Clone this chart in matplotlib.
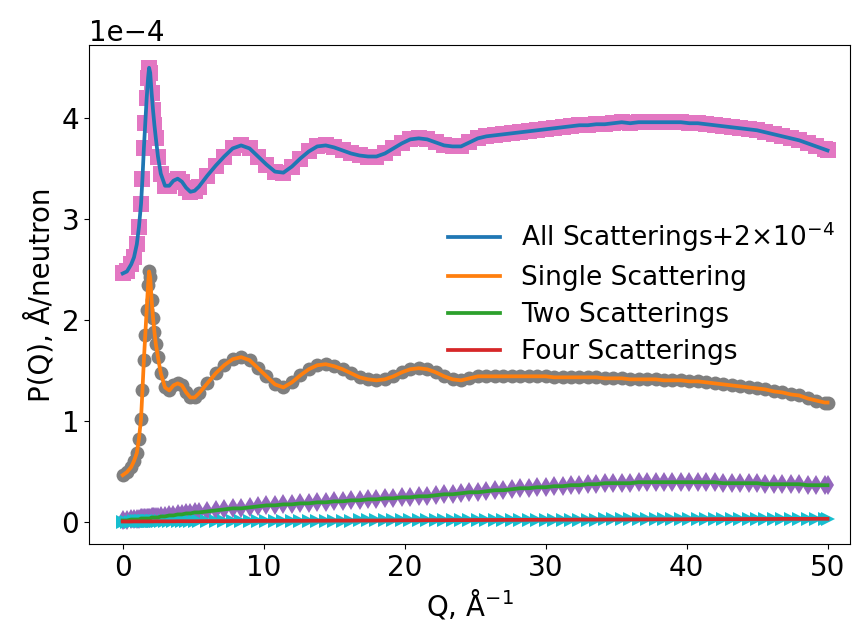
import numpy as np
import matplotlib
matplotlib.use("Agg")
import matplotlib.pyplot as plt

# Q grid (1/Angstrom): extra samples around the first sharp peak, 0.6 steps beyond
q_low = [0.0, 0.3, 0.6, 0.8, 1.0, 1.15, 1.3, 1.4, 1.5, 1.6, 1.7, 1.8, 1.87,
         1.95, 2.05, 2.15, 2.25, 2.35, 2.5, 2.7, 3.0, 3.3, 3.6, 3.9, 4.2,
         4.5, 4.8, 5.1, 5.4]
q = np.r_[q_low, np.arange(6.0, 49.9, 0.6), 50.0]

# P(Q) in units of 1e-4, all scatterings already shifted by +2e-4
all_scat = [
    2.46, 2.48, 2.55, 2.62, 2.75, 2.92, 3.15, 3.40, 3.70, 3.95, 4.20, 4.40, 4.50,
    4.45, 4.25, 4.08, 3.93, 3.80, 3.62, 3.45, 3.33, 3.33, 3.38, 3.40, 3.37,
    3.31, 3.27, 3.28, 3.32,
    3.43, 3.53, 3.62, 3.70, 3.73, 3.70, 3.62, 3.54, 3.47, 3.46,   # 6.0 - 11.4
    3.52, 3.60, 3.67, 3.72, 3.73, 3.71, 3.68, 3.65, 3.63, 3.62,   # 12.0 - 17.4
    3.62, 3.65, 3.70, 3.75, 3.79, 3.80, 3.79, 3.76, 3.73, 3.72,   # 18.0 - 23.4
    3.72, 3.76, 3.80, 3.82, 3.83, 3.84, 3.85, 3.86, 3.87, 3.88,   # 24.0 - 29.4
    3.89, 3.90, 3.91, 3.92, 3.93, 3.93, 3.94, 3.94, 3.95, 3.96,   # 30.0 - 35.4
    3.95, 3.96, 3.96, 3.96, 3.96, 3.96, 3.96, 3.95, 3.95, 3.94,   # 36.0 - 41.4
    3.93, 3.92, 3.91, 3.90, 3.89, 3.88, 3.86, 3.84, 3.82, 3.80,   # 42.0 - 47.4
    3.78, 3.75, 3.72, 3.69, 3.68,                                 # 48.0 - 50.0
]
single_scat = [
    0.46, 0.49, 0.54, 0.60, 0.68, 0.82, 1.02, 1.30, 1.60, 1.85, 2.10, 2.35, 2.48,
    2.42, 2.20, 2.02, 1.88, 1.76, 1.63, 1.47, 1.33, 1.30, 1.35, 1.37, 1.35,
    1.28, 1.23, 1.23, 1.27,
    1.37, 1.47, 1.55, 1.61, 1.63, 1.60, 1.52, 1.44, 1.36, 1.33,
    1.38, 1.45, 1.51, 1.55, 1.56, 1.54, 1.51, 1.47, 1.43, 1.41,
    1.40, 1.41, 1.44, 1.48, 1.51, 1.52, 1.51, 1.48, 1.44, 1.41,
    1.40, 1.42, 1.44, 1.44, 1.44, 1.44, 1.44, 1.44, 1.44, 1.44,
    1.44, 1.43, 1.43, 1.43, 1.43, 1.43, 1.43, 1.42, 1.42, 1.42,
    1.41, 1.41, 1.41, 1.41, 1.40, 1.40, 1.40, 1.39, 1.39, 1.38,
    1.37, 1.36, 1.35, 1.34, 1.33, 1.32, 1.31, 1.29, 1.28, 1.26,
    1.25, 1.22, 1.20, 1.18, 1.18,
]
two_scat = [
    0.01, 0.01, 0.02, 0.02, 0.02, 0.02, 0.03, 0.03, 0.03, 0.03, 0.03, 0.03, 0.03,
    0.03, 0.04, 0.04, 0.04, 0.04, 0.04, 0.05, 0.05, 0.06, 0.06, 0.07, 0.07,
    0.08, 0.08, 0.09, 0.09,
    0.10, 0.11, 0.12, 0.13, 0.13, 0.14, 0.15, 0.16, 0.16, 0.17,
    0.17, 0.18, 0.18, 0.19, 0.19, 0.20, 0.20, 0.21, 0.21, 0.22,
    0.22, 0.23, 0.23, 0.24, 0.24, 0.25, 0.25, 0.26, 0.27, 0.27,
    0.28, 0.29, 0.29, 0.30, 0.31, 0.31, 0.32, 0.33, 0.33, 0.34,
    0.34, 0.35, 0.35, 0.36, 0.36, 0.37, 0.37, 0.38, 0.38, 0.38,
    0.38, 0.39, 0.39, 0.39, 0.39, 0.39, 0.39, 0.39, 0.39, 0.39,
    0.39, 0.38, 0.38, 0.38, 0.38, 0.38, 0.37, 0.37, 0.37, 0.37,
    0.37, 0.36, 0.36, 0.36, 0.36,
]
four_scat = [
    0.000, 0.000, 0.000, 0.001, 0.001, 0.001, 0.001, 0.001, 0.001, 0.001, 0.001, 0.001, 0.001,
    0.001, 0.001, 0.001, 0.002, 0.002, 0.002, 0.002, 0.002, 0.002, 0.002, 0.003, 0.003,
    0.003, 0.003, 0.003, 0.003,
    0.004, 0.004, 0.004, 0.005, 0.005, 0.005, 0.006, 0.006, 0.006, 0.007,
    0.007, 0.007, 0.008, 0.008, 0.008, 0.009, 0.009, 0.009, 0.010, 0.010,
    0.010, 0.011, 0.011, 0.012, 0.012, 0.012, 0.013, 0.013, 0.013, 0.014,
    0.014, 0.014, 0.015, 0.015, 0.015, 0.016, 0.016, 0.016, 0.017, 0.017,
    0.017, 0.018, 0.018, 0.018, 0.019, 0.019, 0.019, 0.020, 0.020, 0.020,
    0.021, 0.021, 0.021, 0.022, 0.022, 0.022, 0.022, 0.023, 0.023, 0.023,
    0.024, 0.024, 0.024, 0.024, 0.025, 0.025, 0.025, 0.025, 0.026, 0.026,
    0.026, 0.026, 0.027, 0.027, 0.027,
]

scale = 1e-4
series = [
    ("All Scatterings+2$\\times10^{-4}$", all_scat, "tab:blue", "s", "tab:pink", 11),
    ("Single Scattering", single_scat, "tab:orange", "o", "tab:gray", 10),
    ("Two Scatterings", two_scat, "tab:green", "d", "tab:purple", 10),
    ("Four Scatterings", four_scat, "tab:red", ">", "tab:cyan", 10),
]

fig = plt.figure(figsize=(8.63, 6.35), dpi=100)
ax = fig.add_axes([0.103, 0.143, 0.882, 0.786])

# reference points underneath, computed curves on top
for label, vals, lc, mk, mc, ms in series:
    y = np.array(vals) * scale
    ax.plot(q, y, linestyle="none", marker=mk, color=mc, markersize=ms,
            markeredgewidth=0, zorder=1)
for label, vals, lc, mk, mc, ms in series:
    y = np.array(vals) * scale
    ax.plot(q, y, color=lc, linewidth=2.7, label=label, zorder=2)

ax.set_xlim(-2.4, 51.6)
ax.ticklabel_format(axis="y", style="sci", scilimits=(0, 0))
ax.set_xlabel("Q, Å$^{-1}$", fontsize=20)
ax.set_ylabel("P(Q), Å/neutron", fontsize=20)
ax.tick_params(labelsize=20)
ax.yaxis.get_offset_text().set_fontsize(20)

ax.legend(loc="center left", bbox_to_anchor=(0.44, 0.505), frameon=False,
          fontsize=19, labelspacing=0.42)

fig.savefig("out.png", dpi=100)
